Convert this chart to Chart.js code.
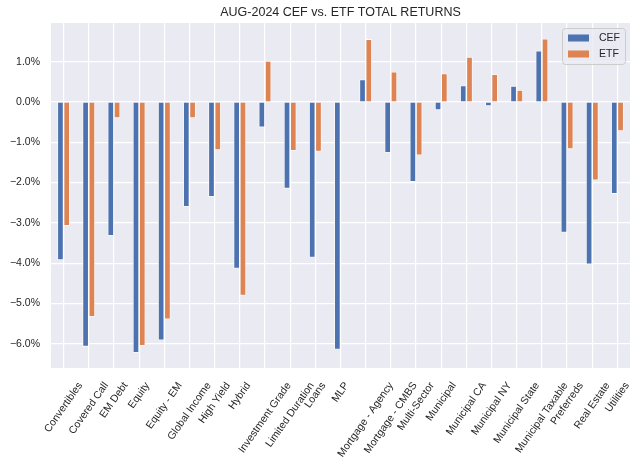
<!DOCTYPE html>
<html>
<head>
<meta charset="utf-8">
<script src="https://cdn.jsdelivr.net/npm/chart.js@4/dist/chart.umd.min.js"></script>
<style>
  html, body { margin: 0; padding: 0; background: #fff; }
  #wrap { width: 640px; height: 471px; }
</style>
</head>
<body>
<div id="wrap"><canvas id="chart"></canvas></div>
<script>
const categories = [
  "Convertibles", "Covered Call", "EM Debt", "Equity", "Equity - EM", "Global Income",
  "High Yield", "Hybrid", "Investment Grade", "Limited Duration", "Loans", "MLP",
  "Mortgage - Agency", "Mortgage - CMBS", "Multi-Sector", "Municipal", "Municipal CA",
  "Municipal NY", "Municipal State", "Municipal Taxable", "Preferreds", "Real Estate", "Utilities"
];
const cefReturns = [
  -3.92, -6.07, -3.32, -6.22, -5.91, -2.60, -2.35, -4.13, -0.63, -2.15, -3.86, -6.14,
  0.56, -1.26, -1.98, -0.20, 0.41, -0.10, 0.40, 1.27, -3.24, -4.03, -2.28
];
const etfReturns = [
  -3.07, -5.33, -0.40, -6.05, -5.39, -0.40, -1.19, -4.80, 1.02, -1.21, -1.23, null,
  1.56, 0.75, -1.32, 0.71, 1.12, 0.69, 0.30, 1.57, -1.17, -1.94, -0.72
];
const yTicks = [-6, -5, -4, -3, -2, -1, 0, 1];

const FONT = "'Liberation Sans', Arial, sans-serif";
const TEXT = "#262626";
const BLUE = "#4c72b0";
const ORANGE = "#dd8452";

const panelBg = {
  id: "panelBg",
  beforeDraw(chart) {
    const { ctx, chartArea: a } = chart;
    ctx.save();
    ctx.fillStyle = "#eaeaf2";
    ctx.fillRect(a.left, a.top, a.right - a.left, a.bottom - a.top);
    ctx.restore();
  }
};

// category labels rotated 55deg, box centred under the tick (matplotlib style)
const xLabels = {
  id: "xLabels",
  afterDraw(chart) {
    const { ctx } = chart;
    const sx = chart.scales.x;
    const size = 10.5, lh = size * 1.15;
    const ang = 55 * Math.PI / 180;
    const top = sx.top + 12;
    ctx.save();
    ctx.font = size + "px " + FONT;
    ctx.fillStyle = TEXT;
    ctx.textAlign = "center";
    ctx.textBaseline = "middle";
    chart.data.labels.forEach((lab, i) => {
      const w = ctx.measureText(lab).width;
      const H = w * Math.sin(ang) + lh * Math.cos(ang);
      ctx.save();
      ctx.translate(sx.getPixelForTick(i), top + H / 2);
      ctx.rotate(-ang);
      ctx.fillText(lab, 0, 0);
      ctx.restore();
    });
    ctx.restore();
  }
};

// legend drawn inside the plot, top right
const innerLegend = {
  id: "innerLegend",
  afterDraw(chart) {
    const { ctx, chartArea: a } = chart;
    const w = 63, h = 36;
    const x = a.right - 5 - w, y = a.top + 5;
    ctx.save();
    ctx.fillStyle = "rgba(234,234,242,0.8)";
    ctx.strokeStyle = "#cccccc";
    ctx.lineWidth = 1;
    ctx.beginPath();
    ctx.roundRect(x + 0.5, y + 0.5, w, h, 3);
    ctx.fill();
    ctx.stroke();
    ctx.font = "10.5px " + FONT;
    ctx.textBaseline = "middle";
    chart.data.datasets.forEach((ds, i) => {
      const cy = y + 10 + i * 16;
      ctx.fillStyle = ds.backgroundColor;
      ctx.fillRect(x + 6, cy - 3.5, 21, 7);
      ctx.fillStyle = TEXT;
      ctx.fillText(ds.label, x + 37, cy + 0.5);
    });
    ctx.restore();
  }
};

new Chart(document.getElementById("chart"), {
  type: "bar",
  data: {
    labels: categories,
    datasets: [
      { label: "CEF", data: cefReturns, backgroundColor: BLUE, borderColor: "#ffffff", borderWidth: 0.8 },
      { label: "ETF", data: etfReturns, backgroundColor: ORANGE, borderColor: "#ffffff", borderWidth: 0.8 }
    ]
  },
  options: {
    responsive: true,
    maintainAspectRatio: false,
    animation: false,
    layout: { padding: { left: 0, right: 10, top: 0, bottom: 0 } },
    datasets: { bar: { categoryPercentage: 0.5, barPercentage: 1.0 } },
    plugins: {
      legend: { display: false },
      tooltip: { enabled: false },
      title: {
        display: true,
        fullSize: false,
        text: "AUG-2024 CEF vs. ETF TOTAL RETURNS",
        color: TEXT,
        font: { family: FONT, size: 12.5, weight: "normal" },
        padding: { top: 5, bottom: 3 }
      }
    },
    scales: {
      x: {
        grid: { color: "#ffffff", lineWidth: 1.2, offset: false, drawTicks: false },
        border: { display: false },
        ticks: { display: false },
        afterFit(scale) { scale.height = 103; }
      },
      y: {
        min: -6.6,
        max: 1.96,
        grid: { color: "#ffffff", lineWidth: 1.2, drawTicks: false },
        border: { display: false },
        afterBuildTicks(scale) {
          scale.ticks = yTicks.map(v => ({ value: v }));
        },
        ticks: {
          color: TEXT,
          font: { family: FONT, size: 10.5 },
          padding: 11,
          callback: v => (v < 0 ? "\u2212" : "") + Math.abs(v).toFixed(1) + "%"
        },
        afterFit(scale) { scale.width = 51; }
      }
    }
  },
  plugins: [panelBg, xLabels, innerLegend]
});
</script>
</body>
</html>
